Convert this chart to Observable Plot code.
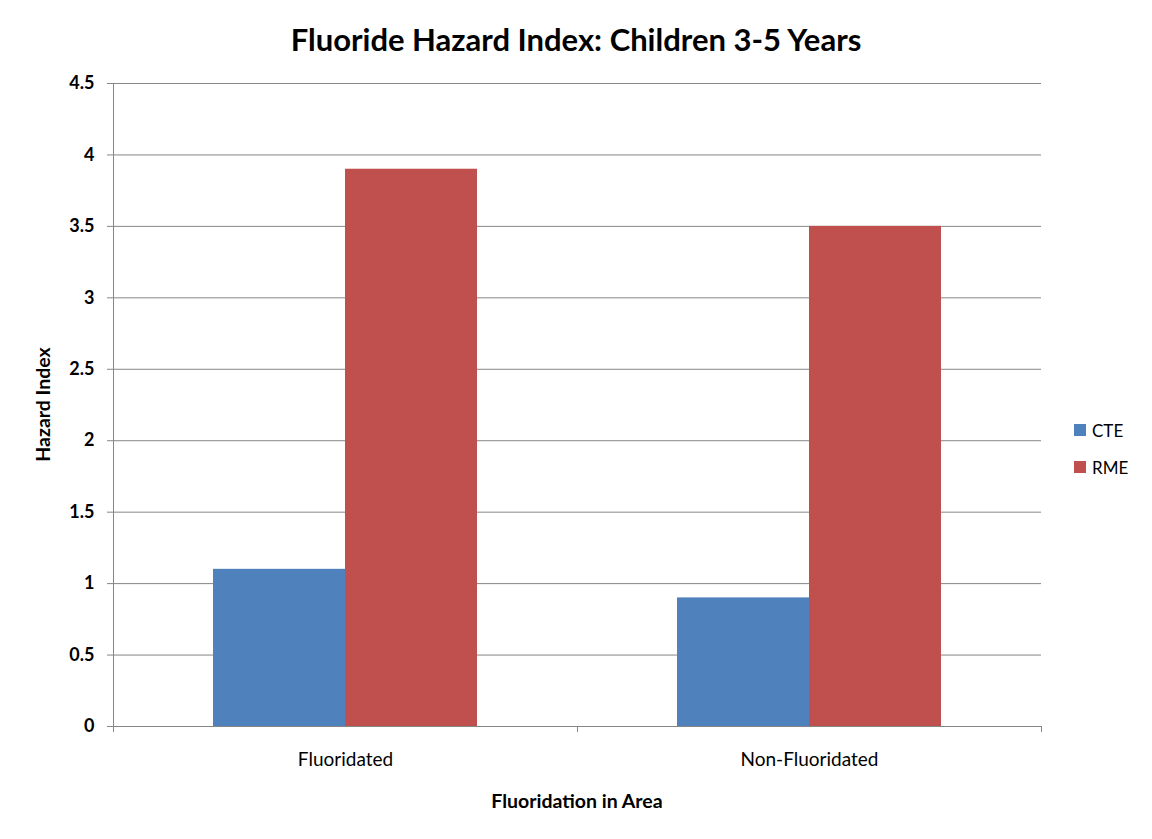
<!DOCTYPE html>
<html>
<head>
<meta charset="utf-8">
<script src="https://cdn.jsdelivr.net/npm/d3@7"></script>
<script src="https://cdn.jsdelivr.net/npm/@observablehq/plot@0.6"></script>
<style>
  html, body { margin: 0; padding: 0; background: #fff; }
  #wrap { position: relative; width: 1152px; height: 839px; font-family: Lato, "Open Sans", sans-serif; color: #000; }
  #title { position: absolute; left: 0; width: 1152px; top: 20px; text-align: center; font-size: 31px; font-weight: bold; }
  #legend { position: absolute; left: 1074px; top: 420px; font-size: 17px; }
  .item { display: flex; align-items: center; height: 20px; margin-bottom: 17px; }
  .sw { width: 12px; height: 12px; margin-right: 6px; }
  #chart { position: absolute; left: 0; top: 0; }
</style>
</head>
<body>
<div id="wrap">
  <div id="chart"></div>
  <div id="title">Fluoride Hazard Index: Children 3-5 Years</div>
  <div id="legend"></div>
</div>
<script>
const categories = ["Fluoridated", "Non-Fluoridated"];
const series = ["CTE", "RME"];
const cteValues = [1.1, 0.9];
const rmeValues = [3.9, 3.5];
const colors = ["#4F81BD", "#C0504D"];
const yTicks = [0, 0.5, 1, 1.5, 2, 2.5, 3, 3.5, 4, 4.5];
const xLabel = "Fluoridation in Area";
const yLabel = "Hazard Index";

const data = [];
categories.forEach((c, i) => {
  data.push({category: c, series: "CTE", value: cteValues[i]});
  data.push({category: c, series: "RME", value: rmeValues[i]});
});

const gridColor = "#868686";

const plot = Plot.plot({
  width: 1152,
  height: 839,
  marginLeft: 113,
  marginRight: 111,
  marginTop: 83,
  marginBottom: 113,
  style: {fontFamily: "Lato, 'Open Sans', sans-serif", fontSize: "16px", color: "#000", background: "#fff"},
  fx: {domain: categories, padding: 0, label: null},
  x: {domain: series, paddingInner: 0, paddingOuter: 0.75, axis: null},
  y: {domain: [0, 4.5], label: null},
  color: {domain: series, range: colors},
  marks: [
    Plot.gridY(yTicks.filter(d => d > 0), {stroke: gridColor, strokeOpacity: 1, strokeWidth: 1}),
    Plot.barY(data, {fx: "category", x: "series", y: "value", fill: "series"}),
    Plot.ruleY([0], {stroke: gridColor, strokeWidth: 1}),
    Plot.axisY(yTicks, {tickSize: 6, tickPadding: 13, stroke: gridColor, fontWeight: "bold", fontSize: 18, tickFormat: d => String(d), label: null}),
    Plot.axisFx({anchor: "bottom", tickSize: 0, tickPadding: 26, fontSize: 19, label: null})
  ]
});

// Axis lines and category-boundary ticks, positioned from the plot's own scales
const svg = d3.select(plot);
const fx = plot.scale("fx");
const y = plot.scale("y");
const y0 = y.apply(0), yTop = y.apply(4.5);
const left = fx.apply(categories[0]);
const bw = fx.bandwidth;
const bounds = categories.map(c => fx.apply(c)).concat([fx.apply(categories[categories.length - 1]) + bw]);
const g = svg.append("g").attr("stroke", gridColor).attr("stroke-width", 1);
g.append("line").attr("x1", left + 0.5).attr("x2", left + 0.5).attr("y1", yTop).attr("y2", y0);
bounds.forEach(b => {
  g.append("line").attr("x1", Math.round(b) + 0.5).attr("x2", Math.round(b) + 0.5).attr("y1", y0).attr("y2", y0 + 6);
});
// axis titles
svg.append("text").attr("x", (left + bounds[bounds.length - 1]) / 2).attr("y", 808)
  .attr("text-anchor", "middle").attr("font-weight", "bold").attr("font-size", 19.5).attr("fill", "#000").text(xLabel);
svg.append("text").attr("transform", `translate(50,${(y0 + yTop) / 2}) rotate(-90)`)
  .attr("text-anchor", "middle").attr("font-weight", "bold").attr("font-size", 19.5).attr("fill", "#000").text(yLabel);

document.getElementById("chart").appendChild(plot);

const legend = document.getElementById("legend");
series.forEach((s, i) => {
  const item = document.createElement("div");
  item.className = "item";
  item.innerHTML = `<div class="sw" style="background:${colors[i]}"></div><span>${s}</span>`;
  legend.appendChild(item);
});
</script>
</body>
</html>
